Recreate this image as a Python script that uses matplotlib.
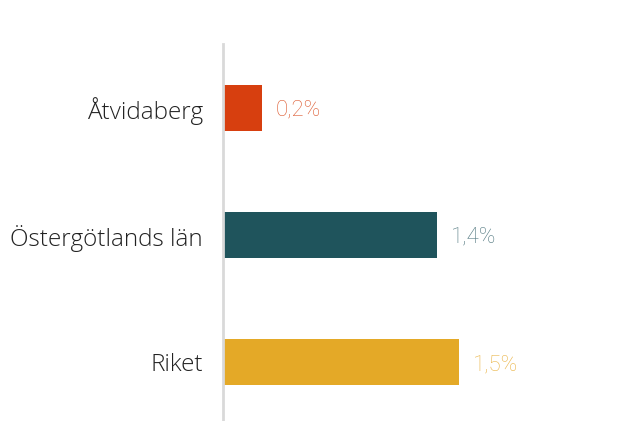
import matplotlib
matplotlib.use("Agg")
import matplotlib.pyplot as plt

categories = ["Åtvidaberg", "Östergötlands län", "Riket"]
values = [0.24, 1.36, 1.5]
labels = ["0,2%", "1,4%", "1,5%"]
colors = ["#D73F0F", "#1F545C", "#E4A927"]
label_colors = ["#DD5A30", "#527880", "#EAB548"]

plt.rcParams["font.family"] = ["Open Sans", "DejaVu Sans"]

fig = plt.figure(figsize=(6.33, 4.21), dpi=100)
ax = fig.add_axes([223 / 633, 0, 410 / 633, 1 - 44 / 421])

ypos = list(range(len(categories)))
ax.barh(ypos, values, height=0.36, color=colors, left=0.008)
for y, v, lab, c in zip(ypos, values, labels, label_colors):
    ax.annotate(lab, (v + 0.008, y), xytext=(10, -1.5), textcoords="offset points",
                va="center", ha="left", fontsize=16, fontweight="light",
                color=c, family=["Roboto", "DejaVu Sans"])

ax.set_yticks(ypos)
ax.set_yticklabels(categories, fontsize=17.5, color="#222222", fontweight="light")
ax.tick_params(axis="y", length=0, pad=14.5)
ax.set_xticks([])
ax.set_xlim(0, 2.62)
ax.set_ylim(2.46, -0.5)
for s in ["top", "right", "bottom"]:
    ax.spines[s].set_visible(False)
ax.spines["left"].set_color("#d9d9d9")
ax.spines["left"].set_linewidth(2)

fig.savefig("out.png", dpi=100)
